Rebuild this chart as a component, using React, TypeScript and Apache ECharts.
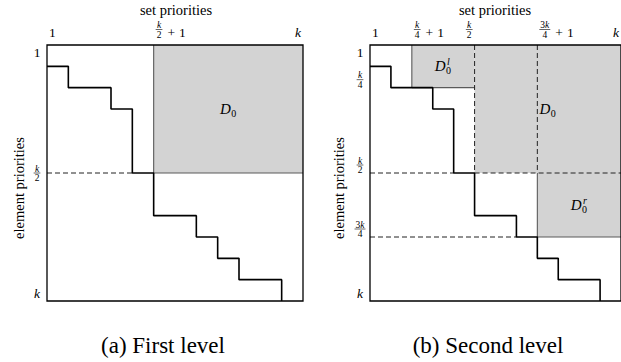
import React, { useEffect, useRef } from 'react';
import * as echarts from 'echarts';

// ---------------- data ----------------
const AXIS_MIN = 0;
const AXIS_MAX = 12;

// staircase corner points (drawn with step: 'end')
const stairX = [0, 1, 3, 4, 5, 7, 8, 9, 11];
const stairY = [1, 2, 3, 6, 8, 9, 10, 11, 12];

// panel (a) First level
const aXTicks = [0, 5, 12];
const aXLabels = ['1', 'k/2 + 1', 'k'];
const aXSides = ['after', 'after', 'before'];
const aYTicks = [0, 6, 12];
const aYLabels = ['1', 'k/2', 'k'];
const aYSides = ['after', 'center', 'before'];
const aShaded = [[5, 0, 12, 6]];
const aRegionNames = ['D_0'];
const aSolidEdges = [[5, 0, 5, 6], [5, 6, 12, 6]];
const aDashedEdges = [[0, 6, 4, 6]];

// panel (b) Second level
const bXTicks = [0, 2, 5, 8, 12];
const bXLabels = ['1', 'k/4 + 1', 'k/2', '3k/4 + 1', 'k'];
const bXSides = ['after', 'after', 'before', 'after', 'before'];
const bYTicks = [0, 2, 6, 9, 12];
const bYLabels = ['1', 'k/4', 'k/2', '3k/4', 'k'];
const bYSides = ['after', 'before', 'before', 'before', 'before'];
const bShaded = [[2, 0, 5, 2], [5, 0, 12, 6], [8, 6, 12, 9]];
const bRegionNames = ['D_0^l', 'D_0', 'D_0^r'];
const bSolidEdges = [[2, 0, 2, 2], [2, 2, 5, 2], [8, 6, 8, 9], [8, 9, 12, 9]];
const bDashedEdges = [[5, 0, 5, 6], [5, 6, 12, 6], [8, 0, 8, 6], [0, 6, 4, 6], [0, 9, 7, 9]];

const xTitle = 'set priorities';
const yTitle = 'element priorities';
const captions = ['(a) First level', '(b) Second level'];

// ---------------- styles ----------------
const FAMILY = 'Times New Roman';
const MAIN = 13.5;
const FRAC = 9.5;
const SHADE = '#d3d3d3';
const EDGE = '#5a5a5a';
const INK = '#000';

let ctx: CanvasRenderingContext2D | null = null;
function measure(text: string, size: number, italic: boolean) {
  if (!ctx) ctx = document.createElement('canvas').getContext('2d');
  ctx!.font = `${italic ? 'italic ' : ''}${size}px "Times New Roman", serif`;
  return ctx!.measureText(text).width;
}

function plainStyle(text: string, size: number, italic: boolean) {
  return { text, fontSize: size, fontFamily: FAMILY, fontStyle: italic ? 'italic' : 'normal', fontWeight: 'normal', fill: INK };
}

type Run = { text: string; italic: boolean };
function runsOf(s: string): Run[] {
  const runs: Run[] = [];
  for (const ch of s) {
    const it = /[a-zA-Z]/.test(ch);
    const last = runs[runs.length - 1];
    if (last && last.italic === it) last.text += ch;
    else runs.push({ text: ch, italic: it });
  }
  return runs;
}
function runsWidth(runs: Run[], size: number) {
  return runs.reduce((s, r) => s + measure(r.text, size, r.italic), 0);
}
function textEl(text: string, x: number, y: number, size: number, italic: boolean) {
  return { type: 'text', x, y: y - size / 2, style: plainStyle(text, size, italic) };
}
function placeRuns(runs: Run[], size: number, x: number, y: number) {
  const els: any[] = [];
  let cx = x;
  for (const r of runs) {
    els.push(textEl(r.text, cx, y, size, r.italic));
    cx += measure(r.text, size, r.italic);
  }
  return els;
}

function buildLabel(label: string, anchorX: number, yc: number, align: string, axis: 'x' | 'y') {
  const m = label.match(/^([0-9]*[a-z]*)\/([0-9]+)(?:\s*\+\s*(\d+))?$/);
  if (!m) {
    const runs = runsOf(label);
    const w = runsWidth(runs, MAIN);
    const x0 = align === 'left' ? anchorX : align === 'right' ? anchorX - w : anchorX - w / 2;
    return placeRuns(runs, MAIN, x0, yc);
  }
  const numRuns = runsOf(m[1]);
  const denRuns = runsOf(m[2]);
  const nw = runsWidth(numRuns, FRAC);
  const dw = runsWidth(denRuns, FRAC);
  const fw = Math.max(nw, dw) + 2;
  const plusW = m[3] ? measure('+', MAIN, false) : 0;
  const oneW = m[3] ? measure(m[3], MAIN, false) : 0;
  const total = fw + (m[3] ? 5 + plusW + 4 + oneW : 0);
  const x0 = align === 'left' ? anchorX : align === 'right' ? anchorX - total : anchorX - total / 2;
  const barY = axis === 'x' ? yc - 3 : yc;
  const els: any[] = [];
  els.push(...placeRuns(numRuns, FRAC, x0 + (fw - nw) / 2, barY - 4.5));
  els.push({ type: 'line', shape: { x1: x0, y1: barY, x2: x0 + fw, y2: barY }, style: { stroke: INK, lineWidth: 0.6 } });
  els.push(...placeRuns(denRuns, FRAC, x0 + (fw - dw) / 2, barY + 5));
  if (m[3]) {
    els.push(textEl('+', x0 + fw + 5, yc, MAIN, false));
    els.push(textEl(m[3], x0 + fw + 5 + plusW + 4, yc, MAIN, false));
  }
  return els;
}

function buildRegionName(name: string, cx: number, cy: number) {
  const m = name.match(/^([A-Z])_(\w)(?:\^(\w))?$/)!;
  const dW = measure(m[1], 15, true);
  const subW = measure(m[2], 10, false);
  const supW = m[3] ? measure(m[3], 10, true) : 0;
  const W = dW + 1 + Math.max(subW, supW);
  const x0 = cx - W / 2;
  const els: any[] = [textEl(m[1], x0, cy, 15, true)];
  els.push(textEl(m[2], x0 + dW + 0.5, cy + 4.5, 10, false));
  if (m[3]) els.push(textEl(m[3], x0 + dW + 1.5, cy - 5, 10, true));
  return els;
}

type Panel = {
  xTicks: number[]; xLabels: string[]; xSides: string[];
  yTicks: number[]; yLabels: string[]; ySides: string[];
  shaded: number[][]; names: string[];
  solid: number[][]; dashed: number[][];
};

function panelSeries(gi: number, cfg: Panel) {
  const axes = { xAxisIndex: gi, yAxisIndex: gi };
  const stair = stairX.map((x, i) => [x, stairY[i]]);
  const edges = [...cfg.solid.map((e) => [...e, 0]), ...cfg.dashed.map((e) => [...e, 1])];
  return [
    {
      type: 'custom', ...axes, z: 1, silent: true,
      data: cfg.shaded,
      renderItem: (_p: any, api: any) => {
        const a = api.coord([api.value(0), api.value(1)]);
        const b = api.coord([api.value(2), api.value(3)]);
        return {
          type: 'rect',
          shape: { x: Math.min(a[0], b[0]), y: Math.min(a[1], b[1]), width: Math.abs(b[0] - a[0]), height: Math.abs(b[1] - a[1]) },
          style: { fill: SHADE },
        };
      },
    },
    {
      type: 'custom', ...axes, z: 2, silent: true,
      data: edges,
      renderItem: (_p: any, api: any) => {
        const a = api.coord([api.value(0), api.value(1)]);
        const b = api.coord([api.value(2), api.value(3)]);
        const dashed = api.value(4) === 1;
        return {
          type: 'line',
          shape: { x1: a[0], y1: a[1], x2: b[0], y2: b[1] },
          style: dashed
            ? { stroke: '#222', lineWidth: 1, lineDash: [5, 3] }
            : { stroke: EDGE, lineWidth: 1.1 },
        };
      },
    },
    {
      type: 'line', ...axes, z: 3, silent: true, step: 'end', symbol: 'none', clip: false,
      data: stair,
      lineStyle: { color: '#000', width: 1.6 },
    },
    {
      type: 'custom', ...axes, z: 4, silent: true,
      data: cfg.xTicks.map((v, i) => [v, i]),
      renderItem: (_p: any, api: any) => {
        const i = api.value(1);
        const [px, top] = api.coord([api.value(0), AXIS_MIN]);
        const side = cfg.xSides[i];
        const anchor = side === 'before' ? px - 2 : px + 2;
        return {
          type: 'group',
          children: buildLabel(cfg.xLabels[i], anchor, top - 12.5, side === 'before' ? 'right' : 'left', 'x'),
        };
      },
    },
    {
      type: 'custom', ...axes, z: 4, silent: true,
      data: cfg.yTicks.map((v, i) => [AXIS_MIN, v, i]),
      renderItem: (_p: any, api: any) => {
        const i = api.value(2);
        const [left, py] = api.coord([AXIS_MIN, api.value(1)]);
        const side = cfg.ySides[i];
        const yc = side === 'after' ? py + 7 : side === 'before' ? py - 8 : py;
        return { type: 'group', children: buildLabel(cfg.yLabels[i], left - 10, yc, 'center', 'y') };
      },
    },
    {
      type: 'custom', ...axes, z: 4, silent: true,
      data: cfg.shaded.map((r, i) => [...r, i]),
      renderItem: (_p: any, api: any) => {
        const i = api.value(4);
        const c = api.coord([(api.value(0) + api.value(2)) / 2, (api.value(1) + api.value(3)) / 2]);
        return { type: 'group', children: buildRegionName(cfg.names[i], c[0], c[1]) };
      },
    },
  ];
}

function centred(text: string, cx: number, cy: number, size: number) {
  const w = measure(text, size, false);
  return { type: 'text', x: cx - w / 2, y: cy - size / 2, style: plainStyle(text, size, false) };
}
function centredRotated(text: string, cx: number, cy: number, size: number) {
  const w = measure(text, size, false);
  return { type: 'text', x: cx - size / 2, y: cy + w / 2, rotation: Math.PI / 2, style: plainStyle(text, size, false) };
}

function buildOption() {
  const panelA: Panel = {
    xTicks: aXTicks, xLabels: aXLabels, xSides: aXSides,
    yTicks: aYTicks, yLabels: aYLabels, ySides: aYSides,
    shaded: aShaded, names: aRegionNames, solid: aSolidEdges, dashed: aDashedEdges,
  };
  const panelB: Panel = {
    xTicks: bXTicks, xLabels: bXLabels, xSides: bXSides,
    yTicks: bYTicks, yLabels: bYLabels, ySides: bYSides,
    shaded: bShaded, names: bRegionNames, solid: bSolidEdges, dashed: bDashedEdges,
  };
  const gridBase = { top: 45, width: 256, height: 256, show: true, borderColor: '#000', borderWidth: 1.3, z: 5 };
  return {
    animation: false,
    grid: [
      { ...gridBase, left: 47 },
      { ...gridBase, left: 370 },
    ],
    xAxis: [0, 1].map((g) => ({ gridIndex: g, type: 'value', min: AXIS_MIN, max: AXIS_MAX, position: 'top', show: false })),
    yAxis: [0, 1].map((g) => ({ gridIndex: g, type: 'value', min: AXIS_MIN, max: AXIS_MAX, inverse: true, show: false })),
    series: [...panelSeries(0, panelA), ...panelSeries(1, panelB)],
    graphic: [
      centred(xTitle, 176, 10, 14.5),
      centred(xTitle, 495, 10, 14.5),
      centredRotated(yTitle, 19, 188, 14.5),
      centredRotated(yTitle, 339, 188, 14.5),
      centred(captions[0], 163, 345, 23),
      centred(captions[1], 488, 345, 23),
    ],
  };
}

export default function App() {
  const ref = useRef<HTMLDivElement>(null);
  useEffect(() => {
    const chart = echarts.init(ref.current!, null, { renderer: 'svg' });
    chart.setOption(buildOption() as any);
    return () => chart.dispose();
  }, []);
  return (
    <div
      ref={ref}
      style={{ position: 'absolute', left: 0, top: 0, width: 621, height: 362, background: '#fff' }}
    />
  );
}
